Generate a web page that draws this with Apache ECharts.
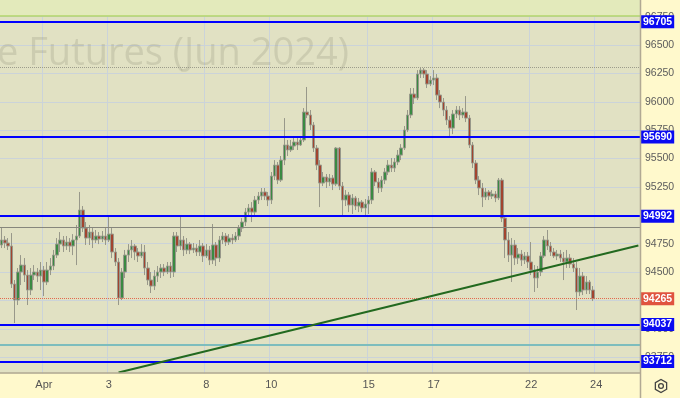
<!DOCTYPE html>
<html>
<head>
<meta charset="utf-8">
<script src="https://cdn.jsdelivr.net/npm/echarts@6/dist/echarts.min.js"></script>
<style>
  html, body { margin: 0; padding: 0; background: #fff9cc; }
  #chart { width: 680px; height: 398px; }
</style>
</head>
<body>
<div id="chart"></div>
<script>
// trading days on the x axis (first one is only partly visible)
const tradingDays = ['28', '1', '2', '3', '4', '5', '8', '9', '10', '11', '12', '15', '16', '17', '18', '19', '22', '23', '24'];
const barsPerDay = [13, 10, 10, 10, 10, 10, 10, 10, 10, 10, 10, 10, 10, 10, 10, 10, 10, 10, 14];
const dayTickLabels = { '1': 'Apr', '3': '3', '8': '8', '10': '10', '15': '15', '17': '17', '22': '22', '24': '24' };

// candles: [open, close, low, high]
const candles = [
  // Mar 28
  [94738, 94782, 94711, 94895], [94782, 94755, 94711, 94817], [94755, 94729, 94694, 94799],
  [94729, 94394, 94359, 94843], [94394, 94253, 94050, 94429], [94253, 94500, 94209, 94535],
  [94500, 94561, 94385, 94649], [94561, 94473, 94412, 94623], [94473, 94341, 94209, 94517],
  [94341, 94473, 94297, 94535], [94473, 94500, 94429, 94561], [94500, 94464, 94412, 94535],
  [94464, 94517, 94341, 94588],
  // Apr 1
  [94517, 94412, 94288, 94553], [94412, 94517, 94385, 94588], [94517, 94553, 94473, 94623],
  [94553, 94649, 94517, 94694], [94649, 94746, 94623, 94799], [94746, 94782, 94676, 94852],
  [94782, 94729, 94676, 94817], [94729, 94764, 94694, 94817], [94764, 94729, 94676, 94799],
  [94729, 94782, 94649, 94834],
  // Apr 2
  [94782, 94817, 94561, 94914], [94817, 95046, 94799, 95205], [95046, 94887, 94852, 95081],
  [94887, 94799, 94738, 94940], [94799, 94852, 94738, 94914], [94852, 94782, 94711, 94887],
  [94782, 94817, 94755, 94870], [94817, 94790, 94746, 94852], [94790, 94817, 94764, 94861],
  [94817, 94782, 94738, 94887],
  // Apr 3
  [94782, 94834, 94764, 94984], [94834, 94676, 94623, 94887], [94676, 94588, 94553, 94711],
  [94588, 94271, 94209, 94623], [94271, 94500, 94253, 94535], [94500, 94649, 94447, 94694],
  [94649, 94694, 94588, 94746], [94694, 94729, 94623, 94782], [94729, 94676, 94605, 94746],
  [94676, 94641, 94588, 94711],
  // Apr 4
  [94641, 94676, 94623, 94746], [94676, 94535, 94473, 94738], [94535, 94429, 94385, 94588],
  [94429, 94376, 94315, 94500], [94376, 94464, 94341, 94517], [94464, 94500, 94412, 94553],
  [94500, 94535, 94447, 94570], [94535, 94500, 94464, 94570], [94500, 94553, 94482, 94588],
  [94553, 94500, 94447, 94588],
  // Apr 5
  [94500, 94817, 94456, 94852], [94817, 94729, 94676, 94852], [94729, 94782, 94694, 94984],
  [94782, 94694, 94641, 94817], [94694, 94746, 94658, 94799], [94746, 94694, 94658, 94764],
  [94694, 94711, 94667, 94755], [94711, 94676, 94641, 94746], [94676, 94729, 94641, 94782],
  [94729, 94641, 94588, 94755],
  // Apr 8
  [94641, 94694, 94623, 94746], [94694, 94605, 94561, 94729], [94605, 94738, 94570, 94923],
  [94738, 94623, 94553, 94764], [94623, 94782, 94588, 94817], [94782, 94817, 94746, 94852],
  [94817, 94764, 94729, 94843], [94764, 94799, 94738, 94834], [94799, 94782, 94746, 94834],
  [94782, 94817, 94764, 94852],
  // Apr 9
  [94817, 94887, 94782, 94914], [94887, 94940, 94852, 94975], [94940, 95028, 94905, 95064],
  [95028, 95064, 94993, 95099], [95064, 95028, 94940, 95116], [95028, 95134, 95002, 95169],
  [95134, 95169, 95099, 95205], [95169, 95205, 95134, 95240], [95205, 95169, 95134, 95240],
  [95169, 95134, 95081, 95205],
  // Apr 10
  [95134, 95345, 95099, 95381], [95345, 95442, 95310, 95486], [95442, 95310, 95275, 95469],
  [95310, 95486, 95293, 95522], [95486, 95619, 95442, 95856], [95619, 95575, 95522, 95663],
  [95575, 95610, 95557, 95663], [95610, 95645, 95575, 95680], [95645, 95619, 95575, 95680],
  [95619, 95663, 95610, 95698],
  // Apr 11
  [95663, 95909, 95645, 95944], [95909, 95883, 95856, 96130], [95883, 95795, 95751, 95927],
  [95795, 95592, 95557, 95821], [95592, 95442, 95398, 95619], [95442, 95284, 95072, 95486],
  [95284, 95337, 95257, 95381], [95337, 95293, 95240, 95363], [95293, 95328, 95257, 95363],
  [95328, 95275, 95222, 95354],
  // Apr 12
  [95275, 95592, 95257, 95601], [95592, 95257, 95222, 95601], [95257, 95134, 95002, 95293],
  [95134, 95178, 95081, 95222], [95178, 95090, 95028, 95205], [95090, 95152, 95011, 95187],
  [95152, 95081, 95046, 95169], [95081, 95116, 95028, 95152], [95116, 95064, 95028, 95134],
  [95064, 95099, 95002, 95143],
  // Apr 15
  [95099, 95134, 95011, 95169], [95134, 95381, 95099, 95416], [95381, 95293, 95257, 95398],
  [95293, 95240, 95196, 95328], [95240, 95310, 95205, 95345], [95310, 95381, 95275, 95416],
  [95381, 95442, 95354, 95486], [95442, 95416, 95381, 95504], [95416, 95469, 95381, 95504],
  [95469, 95530, 95442, 95575],
  // Apr 16
  [95530, 95592, 95486, 95627], [95592, 95751, 95575, 95786], [95751, 95883, 95733, 95927],
  [95883, 96068, 95856, 96121], [96068, 96033, 95980, 96121], [96033, 96244, 96015, 96279],
  [96244, 96279, 96209, 96300], [96279, 96244, 96209, 96297], [96244, 96156, 96121, 96279],
  [96156, 96191, 96138, 96226],
  // Apr 17
  [96191, 96209, 96147, 96279], [96209, 96059, 96015, 96244], [96059, 95997, 95944, 96103],
  [95997, 95927, 95874, 96033], [95927, 95839, 95795, 95962], [95839, 95768, 95689, 95874],
  [95768, 95892, 95715, 95927], [95892, 95927, 95856, 95962], [95927, 95883, 95839, 95962],
  [95883, 95909, 95856, 95944],
  // Apr 18
  [95909, 95856, 95821, 96050], [95856, 95619, 95592, 95883], [95619, 95460, 95416, 95645],
  [95460, 95310, 95275, 95486], [95310, 95240, 95178, 95345], [95240, 95160, 95072, 95284],
  [95160, 95205, 95134, 95240], [95205, 95169, 95134, 95222], [95169, 95187, 95143, 95222],
  [95187, 95152, 95116, 95213],
  // Apr 19
  [95152, 95310, 95134, 95328], [95310, 94975, 94940, 95328], [94975, 94782, 94623, 95002],
  [94782, 94649, 94588, 94852], [94649, 94738, 94412, 94799], [94738, 94623, 94561, 94782],
  [94623, 94658, 94570, 94711], [94658, 94605, 94553, 94694], [94605, 94641, 94570, 94676],
  [94641, 94588, 94535, 94676],
  // Apr 22
  [94588, 94517, 94473, 94764], [94517, 94447, 94324, 94561], [94447, 94500, 94359, 94553],
  [94500, 94641, 94464, 94676], [94641, 94782, 94623, 94817], [94782, 94729, 94694, 94870],
  [94729, 94676, 94641, 94764], [94676, 94641, 94623, 94711], [94641, 94658, 94605, 94694],
  [94658, 94623, 94588, 94694],
  // Apr 23
  [94623, 94588, 94429, 94676], [94588, 94623, 94535, 94694], [94623, 94570, 94535, 94658],
  [94570, 94535, 94500, 94623], [94535, 94324, 94165, 94588], [94324, 94464, 94288, 94535],
  [94464, 94341, 94297, 94500], [94341, 94412, 94306, 94464], [94412, 94341, 94306, 94429],
  [94341, 94265, 94244, 94376]
];

// drawn levels
const blueLevels = [96705, 95690, 94992, 94037, 93712];
const lastPrice = 94265;
const periodHigh = 96300;
const grayLevel = 94896;
const tealLevel = 93860;
const upperZone = 96755;
// trend line: [bar index, price]
const trendFrom = [36, 93614];
const trendTo = [196, 94733];

const categories = [];
tradingDays.forEach(function (d, i) {
  for (let k = 0; k < barsPerDay[i]; k++) categories.push(d + '-' + k);
});

function isDayStart(v) {
  const parts = v.split('-');
  return parts[1] === '0' && dayTickLabels[parts[0]] !== undefined;
}

const font = 'Liberation Sans, Arial, sans-serif';
const gridLineColor = '#cbd3d9';
const borderColor = '#b1a993';

const levelLabel = function (bg) {
  return {
    show: true,
    position: 'end',
    distance: 1,
    formatter: '{c}',
    color: '#fff',
    backgroundColor: bg,
    fontWeight: 'bold',
    fontSize: 10.5,
    lineHeight: 10,
    fontFamily: font,
    padding: [1.5, 2]
  };
};

const markLines = blueLevels.map(function (v) {
  return { yAxis: v, lineStyle: { color: '#0000ff', width: 2, type: 'solid' }, label: levelLabel('#0a0af2') };
});
markLines.push({ yAxis: grayLevel, lineStyle: { color: '#86867c', width: 1, type: 'solid' }, label: { show: false } });
markLines.push({ yAxis: tealLevel, lineStyle: { color: '#7dbdbd', width: 2, type: 'solid' }, label: { show: false } });
markLines.push({ yAxis: upperZone, lineStyle: { color: '#b3d66a', width: 1.5, type: 'solid' }, label: { show: false } });
markLines.push({ yAxis: periodHigh, lineStyle: { color: '#9c9c8c', width: 1, type: 'dotted' }, label: { show: false } });
markLines.push({ yAxis: lastPrice, lineStyle: { color: '#e2694e', width: 1, type: 'dotted' }, label: levelLabel('#e0533f') });
markLines.push([
  { coord: [categories[trendFrom[0]], trendFrom[1]], lineStyle: { color: '#22691f', width: 2, type: 'solid' }, label: { show: false } },
  { coord: [categories[trendTo[0]], trendTo[1]] }
]);

const hexPoints = [];
for (let i = 0; i < 6; i++) {
  const a = Math.PI / 6 + i * Math.PI / 3;
  hexPoints.push([661 + 6.5 * Math.cos(a), 386 + 6.5 * Math.sin(a)]);
}

const chart = echarts.init(document.getElementById('chart'));
chart.setOption({
  animation: false,
  backgroundColor: '#fff9cc',
  grid: {
    left: 0,
    right: 40,
    top: -11.75,
    bottom: 12.5,
    containLabel: false,
    outerBoundsMode: 'none',
    show: true,
    backgroundColor: '#e1e1c3',
    borderWidth: 0
  },
  xAxis: [
    {
      type: 'category',
      data: categories,
      position: 'bottom',
      axisLine: { show: false },
      axisTick: { show: false },
      axisLabel: { show: false },
      splitLine: { show: true, interval: function (i, v) { return isDayStart(v); }, lineStyle: { color: gridLineColor, width: 1 } }
    },
    {
      type: 'category',
      data: categories,
      position: 'bottom',
      offset: -12.5,
      z: 60,
      axisLine: { show: true, lineStyle: { color: borderColor, width: 1.5 } },
      axisTick: { show: false },
      splitLine: { show: false },
      axisLabel: {
        interval: function (i, v) { return isDayStart(v); },
        formatter: function (v) { return dayTickLabels[v.split('-')[0]]; },
        color: '#555',
        fontSize: 11,
        fontFamily: font,
        margin: 6
      }
    }
  ],
  yAxis: {
    type: 'value',
    position: 'right',
    min: 93500,
    max: 97000,
    interval: 250,
    axisLine: { show: false },
    axisTick: { show: false },
    axisLabel: { color: '#5c5c5c', fontSize: 10.5, fontFamily: font, margin: 5, formatter: function (v) { return String(v); } },
    splitLine: { show: true, lineStyle: { color: gridLineColor, width: 1 } }
  },
  graphic: [
    {
      type: 'text', x: -3, y: 54, z: 1, silent: true,
      style: { text: 'e Futures (Jun 2024)', font: '38px "Open Sans"', fill: 'rgba(130,130,110,0.22)', verticalAlign: 'middle' }
    },
    { type: 'rect', z: 50, silent: true, shape: { x: 0, y: 373.5, width: 680, height: 25 }, style: { fill: '#fff9cc' } },
    { type: 'line', z: 55, silent: true, shape: { x1: 640.5, y1: 0, x2: 640.5, y2: 398 }, style: { stroke: borderColor, lineWidth: 1.5 } },
    { type: 'polygon', z: 56, silent: true, shape: { points: hexPoints }, style: { fill: 'none', stroke: '#444', lineWidth: 1.3 } },
    { type: 'circle', z: 56, silent: true, shape: { cx: 661, cy: 386, r: 2.4 }, style: { fill: 'none', stroke: '#444', lineWidth: 1.3 } }
  ],
  series: [
    {
      type: 'line',
      data: [],
      z: 1,
      silent: true,
      markArea: {
        silent: true,
        itemStyle: { color: '#e3eabb' },
        data: [[{ yAxis: upperZone }, { yAxis: 97000 }]]
      }
    },
    {
      type: 'candlestick',
      data: candles,
      barWidth: 3,
      z: 2,
      itemStyle: {
        color: '#3a8a42',
        color0: '#a2442f',
        borderColor: '#98988a',
        borderColor0: '#98988a',
        borderWidth: 1
      }
    },
    {
      type: 'line',
      data: [],
      z: 3,
      silent: true,
      markLine: {
        silent: true,
        symbol: ['none', 'none'],
        animation: false,
        data: markLines
      }
    }
  ]
});
</script>
</body>
</html>
